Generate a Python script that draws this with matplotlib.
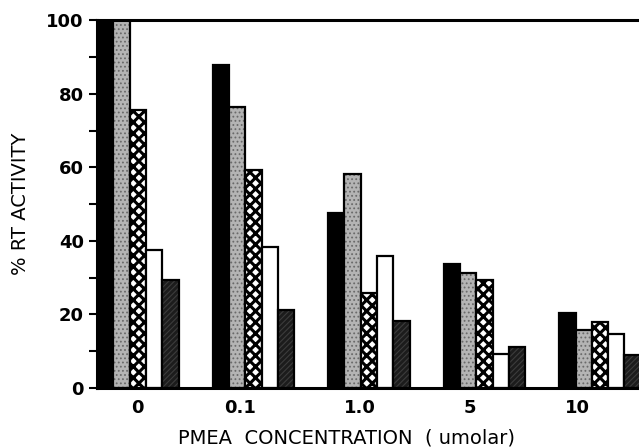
import matplotlib
matplotlib.use("Agg")
import matplotlib.pyplot as plt
import numpy as np

categories = ["0", "0.1", "1.0", "5", "10"]
series_a = [100, 87.8, 47.5, 33.7, 20.3]   # solid black
series_b = [100, 76.4, 58.1, 31.2, 15.8]   # gray stipple
series_c = [75.5, 59.2, 25.9, 29.3, 18.0]  # cross-hatch
series_d = [37.5, 38.4, 35.9, 9.2, 14.7]   # white
series_e = [29.3, 21.2, 18.3, 11.2, 9.0]   # dark hatched
tick_pos = [0.35, 1.24, 2.27, 3.23, 4.16]

plt.rcParams['hatch.linewidth'] = 2.2
fig = plt.figure(figsize=(6.39, 4.48), dpi=100)
ax = fig.add_axes([0.152, 0.134, 0.848, 0.821])

w = 0.141
x0 = np.arange(len(categories))
styles = [
    dict(fc="black", hatch=None, hc=None),
    dict(fc="#b4b4b4", hatch="....", hc="#6a6a6a"),
    dict(fc="white", hatch="xxx", hc="black"),
    dict(fc="white", hatch=None, hc=None),
    dict(fc="#1c1c1c", hatch="//////", hc="#3c3c3c"),
]
all_series = [series_a, series_b, series_c, series_d, series_e]
for k, (vals, st) in enumerate(zip(all_series, styles)):
    xs = x0 + k * w
    ax.bar(xs, vals, width=w, align="edge", color=st["fc"], linewidth=0)
    if st["hatch"]:
        plt.rcParams['hatch.linewidth'] = 2.2 if st["hatch"] == "xxx" else 0.8
        ax.bar(xs, vals, width=w, align="edge", facecolor="none",
               edgecolor=st["hc"], hatch=st["hatch"], linewidth=0)
    ax.bar(xs, vals, width=w, align="edge", facecolor="none",
           edgecolor="black", linewidth=1.6)

ax.set_xlim(0, 4.69)
ax.set_ylim(0, 100)
ax.set_yticks(range(0, 101, 20))
ax.set_yticks(range(10, 100, 20), minor=True)
ax.tick_params(axis="y", which="both", direction="out", length=6, width=1.5,
               labelsize=13)
ax.set_xticks(tick_pos)
ax.set_xticklabels(categories)
ax.tick_params(axis="x", length=0, labelsize=13, pad=8)
for lbl in ax.get_xticklabels() + ax.get_yticklabels():
    lbl.set_fontweight("bold")
for s in ["left", "bottom", "top"]:
    ax.spines[s].set_linewidth(2.2)
ax.spines["right"].set_visible(False)
ax.set_ylabel("% RT ACTIVITY", fontsize=14, labelpad=12)
ax.set_xlabel("PMEA  CONCENTRATION  ( umolar)", fontsize=14, labelpad=6)
ax.xaxis.set_label_coords(0.46, -0.11)
fig.savefig("out.png", dpi=100)
